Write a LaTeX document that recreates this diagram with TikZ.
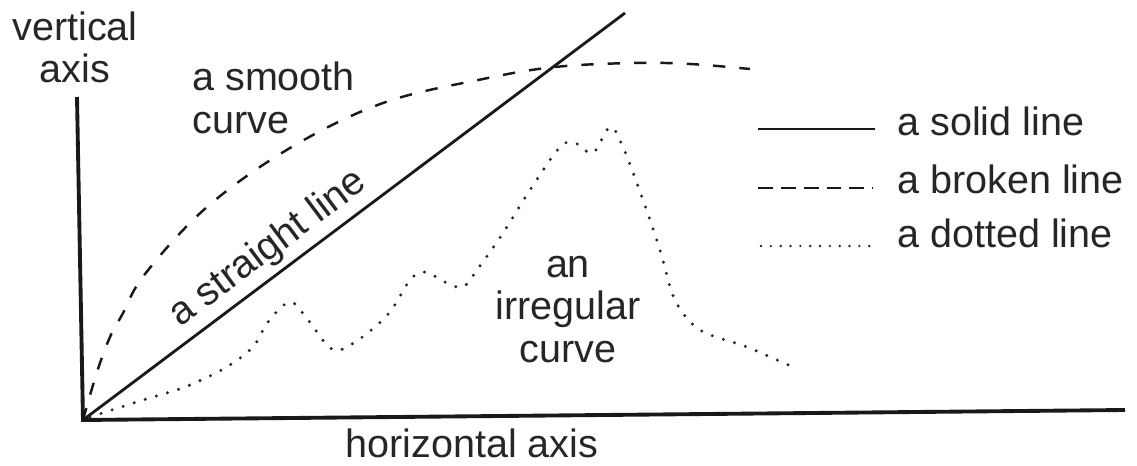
\documentclass[tikz,border=0pt]{standalone}
\usepackage{fontspec}
\setmainfont{Liberation Sans}
\usepackage{tikz}
\usetikzlibrary{positioning}

\tikzset{
    lbl/.style={font=\fontsize{22.5}{24}\selectfont, inner sep=0pt, text=black!85},
    axisline/.style={line width=2.2pt, black!90},
    solidline/.style={line width=1.6pt, black!90},
    brokenline/.style={line width=1.4pt, black!90, dash pattern=on 7pt off 8pt},
    dottedline/.style={line width=1.9pt, black!85, line cap=round, dash pattern=on 0pt off 6.6pt},
    legbroken/.style={line width=1.6pt, black!90, dash pattern=on 8.5pt off 4.5pt},
    legdotted/.style={line width=1.5pt, black!85, line cap=round, dash pattern=on 0pt off 5.6pt},
}

\begin{document}
\begin{tikzpicture}[x=0.02cm, y=-0.02cm] % pixel grid, y down
        \useasboundingbox (0,0) rectangle (1137,466);
        % axes
        \coordinate (O) at (83,420);
        \coordinate (V) at (77,97);
        \coordinate (H) at (1125,410);
        \coordinate (T) at (625,13);
        \draw[axisline] (V) -- (O) -- (H);

        % straight line
        \draw[solidline] (O) -- (T)
            node[lbl, sloped, pos=0.37, anchor=south, outer sep=4pt] (stlab) {a straight line};

        % smooth curve
        \draw[brokenline] plot[smooth, tension=0.6] coordinates {
            (O) (97,372) (110,337) (122,315) (145,274) (207,207) (290,148)
            (383,103) (483,79) (555,67) (633,63) (690,64) (750,69)};

        % irregular curve
        \draw[dottedline] plot[smooth, tension=0.55] coordinates {
            (90,417) (143,400) (185,387) (225,368) (253,347) (268,322) (290,302)
            (308,320) (327,345) (340,350) (365,335) (390,312) (410,280) (425,272)
            (447,283) (463,287) (477,270) (503,233) (530,190) (560,147) (575,143)
            (593,153) (610,127) (623,147) (643,200) (660,250) (675,300) (700,330)
            (747,347) (795,368)};

        % labels (base = last line)
        \node[lbl, align=center, anchor=base] (vlab) at (75,83) {vertical\\axis};
        \node[lbl, align=left, anchor=base west] (smlab) at (192,133) {a smooth\\curve};
        \node[lbl, align=center, anchor=base] (irlab) at (568,362) {an\\irregular\\curve};
        \node[lbl, anchor=base] (hlab) at (472,457) {horizontal axis};

        % legend
        \node[lbl, anchor=base west] (leg1) at (897,136) {a solid line};
        \node[lbl, anchor=base west] (leg2) at (897,194) {a broken line};
        \node[lbl, anchor=base west] (leg3) at (897,248) {a dotted line};
        \coordinate (s1) at (758,129);
        \coordinate (e1) at (875,129);
        \coordinate (s2) at (758,188);
        \coordinate (e2) at (873,188);
        \coordinate (s3) at (761,246);
        \coordinate (e3) at (875,246);
        \draw[solidline] (s1) -- (e1);
        \draw[legbroken] (s2) -- (e2);
        \draw[legdotted] (s3) -- (e3);
\end{tikzpicture}
\end{document}
